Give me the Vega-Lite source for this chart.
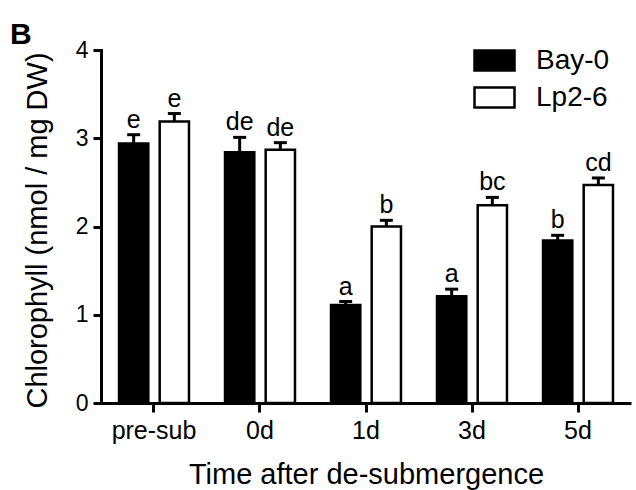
{
  "$schema": "https://vega.github.io/schema/vega-lite/v6.json",
  "autosize": "none",
  "width": 530,
  "height": 353,
  "padding": {"left": 101, "top": 50, "right": 5, "bottom": 87},
  "background": "white",
  "title": {
    "text": "B",
    "anchor": "start",
    "frame": "group",
    "dx": -91,
    "dy": 35,
    "offset": 0,
    "fontSize": 30,
    "fontWeight": "bold",
    "font": "Liberation Sans",
    "color": "black",
    "baseline": "alphabetic"
  },
  "data": {
    "values": [
      {"time": "pre-sub", "strain": "Bay-0", "value": 2.94, "upper": 3.04, "letter": "e"},
      {"time": "pre-sub", "strain": "Lp2-6", "value": 3.19, "upper": 3.28, "letter": "e"},
      {"time": "0d", "strain": "Bay-0", "value": 2.84, "upper": 3.01, "letter": "de"},
      {"time": "0d", "strain": "Lp2-6", "value": 2.87, "upper": 2.95, "letter": "de"},
      {"time": "1d", "strain": "Bay-0", "value": 1.11, "upper": 1.15, "letter": "a"},
      {"time": "1d", "strain": "Lp2-6", "value": 2.0, "upper": 2.07, "letter": "b"},
      {"time": "3d", "strain": "Bay-0", "value": 1.21, "upper": 1.29, "letter": "a"},
      {"time": "3d", "strain": "Lp2-6", "value": 2.24, "upper": 2.33, "letter": "bc"},
      {"time": "5d", "strain": "Bay-0", "value": 1.84, "upper": 1.9, "letter": "b"},
      {"time": "5d", "strain": "Lp2-6", "value": 2.47, "upper": 2.55, "letter": "cd"}
    ]
  },
  "encoding": {
    "x": {
      "field": "time",
      "type": "nominal",
      "sort": ["pre-sub", "0d", "1d", "3d", "5d"],
      "scale": {"paddingInner": 0.34, "paddingOuter": 0.17},
      "axis": {
        "title": "Time after de-submergence",
        "labelAngle": 0,
        "labelFontSize": 25,
        "tickSize": 9,
        "labelPadding": 6,
        "titleY": 80,
        "titleBaseline": "alphabetic"
      }
    },
    "xOffset": {
      "field": "strain",
      "type": "nominal",
      "sort": ["Bay-0", "Lp2-6"],
      "scale": {"paddingInner": 0.28, "paddingOuter": 0}
    }
  },
  "layer": [
    {
      "mark": {"type": "bar", "stroke": "black", "strokeWidth": 2.5},
      "encoding": {
        "y": {
          "field": "value",
          "type": "quantitative",
          "scale": {"domain": [0, 4], "nice": false},
          "axis": {
            "title": "Chlorophyll (nmol / mg DW)",
            "values": [0, 1, 2, 3, 4],
            "format": "d",
            "tickSize": 8,
            "labelPadding": 5,
            "titleX": -64,
            "titleY": 180,
            "titleBaseline": "middle",
            "grid": false
          }
        },
        "fill": {
          "field": "strain",
          "type": "nominal",
          "scale": {"domain": ["Bay-0", "Lp2-6"], "range": ["black", "white"]},
          "legend": {
            "title": null,
            "orient": "none",
            "legendX": 372,
            "legendY": -11,
            "symbolType": "M-1,-0.5H1V0.5H-1Z",
            "symbolSize": 1600,
            "symbolStrokeColor": "black",
            "symbolStrokeWidth": 2.5,
            "labelFontSize": 28,
            "labelFont": "Liberation Sans",
            "labelColor": "black",
            "labelOffset": 20,
            "rowPadding": -11
          }
        }
      }
    },
    {
      "mark": {"type": "rule", "color": "black", "strokeWidth": 3},
      "encoding": {
        "y": {"field": "value", "type": "quantitative"},
        "y2": {"field": "upper"}
      }
    },
    {
      "mark": {"type": "tick", "color": "black", "thickness": 3, "size": 13, "opacity": 1},
      "encoding": {
        "y": {"field": "upper", "type": "quantitative"}
      }
    },
    {
      "mark": {
        "type": "text",
        "baseline": "alphabetic",
        "dy": -7,
        "fontSize": 25,
        "font": "Liberation Sans",
        "color": "black"
      },
      "encoding": {
        "y": {"field": "upper", "type": "quantitative"},
        "text": {"field": "letter"}
      }
    }
  ],
  "config": {
    "view": {"stroke": null},
    "axis": {
      "domainColor": "black",
      "domainWidth": 3,
      "tickColor": "black",
      "tickWidth": 3,
      "labelColor": "black",
      "labelFont": "Liberation Sans",
      "labelFontSize": 23,
      "titleColor": "black",
      "titleFont": "Liberation Sans",
      "titleFontSize": 29,
      "titleFontWeight": "normal"
    },
    "axisY": {"domainCap": "square"}
  }
}
